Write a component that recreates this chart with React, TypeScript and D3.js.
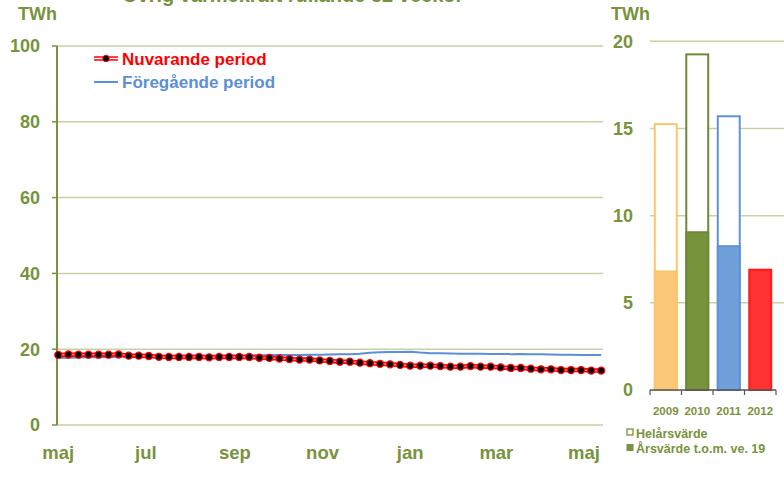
import React from 'react';
import * as d3 from 'd3';

// weekly values, rolling 52 weeks (TWh)
const currentPeriod = [
  18.5, 18.6, 18.55, 18.55, 18.55, 18.55, 18.6, 18.3, 18.3, 18.2,
  18.0, 17.95, 17.95, 17.95, 17.95, 17.85, 17.95, 17.95, 17.95, 17.95,
  17.75, 17.7, 17.55, 17.4, 17.25, 17.25, 17.05, 16.9, 16.7, 16.7,
  16.45, 16.3, 16.15, 16.0, 15.85, 15.65, 15.65, 15.65, 15.55, 15.4,
  15.4, 15.55, 15.4, 15.4, 15.2, 15.05, 15.05, 14.85, 14.7, 14.7,
  14.5, 14.5, 14.5, 14.35, 14.35
];
const previousPeriod = [
  17.7, 17.75, 17.8, 17.85, 17.9, 17.95, 18.0, 18.05, 18.1, 18.15,
  18.2, 18.2, 18.25, 18.25, 18.3, 18.3, 18.3, 18.35, 18.35, 18.4,
  18.4, 18.45, 18.45, 18.5, 18.5, 18.55, 18.55, 18.6, 18.65, 18.7,
  18.8, 19.05, 19.2, 19.25, 19.25, 19.35, 19.1, 18.95, 18.9, 18.85,
  18.8, 18.8, 18.8, 18.75, 18.75, 18.7, 18.75, 18.7, 18.65, 18.6,
  18.55, 18.55, 18.5, 18.5, 18.5
];
const weeks = d3.timeWeek.range(new Date(2011, 4, 1), new Date(2012, 4, 14));
const monthNames = ['jan', 'feb', 'mar', 'apr', 'maj', 'jun', 'jul', 'aug', 'sep', 'okt', 'nov', 'dec'];
const leftTicks = [0, 20, 40, 60, 80, 100];

const years = ['2009', '2010', '2011', '2012'];
const fullYear = [15.25, 19.25, 15.7, null];
const toWeek19 = [6.8, 9.05, 8.25, 6.9];
const barFill = ['#fac878', '#77933c', '#70a0da', '#ff3333'];
const barStroke = ['#fcc56a', '#6f8a36', '#5f93d6', '#ff1a1a'];
const rightTicks = [0, 5, 10, 15, 20];

const olive = '#77933c';
const grid = '#c6d1a4';
const font = '"Liberation Sans", Arial, sans-serif';

export default function App() {
  const x = d3.scaleTime().domain([weeks[0], weeks[weeks.length - 1]]).range([58.3, 601.2]);
  const y = d3.scaleLinear().domain([0, 100]).range([425, 46]);
  const monthTicks = x.ticks(d3.timeMonth.every(2));

  const line = d3.line<number>().x((d, i) => x(weeks[i])).y(d => y(d));

  const xb = d3.scaleBand<string>().domain(years).range([650, 776]).paddingInner(0.24).paddingOuter(0.12);
  const yb = d3.scaleLinear().domain([0, 20]).range([390, 41.3]);

  return (
    <svg width={784} height={480} style={{ position: 'absolute', left: 0, top: 0, fontFamily: font, fontWeight: 'bold' }}>
      <rect width={784} height={480} fill="#fff" />
      <text x={122} y={2} fontSize={20} fill={olive}>Övrig värmekraft rullande 52 veckor</text>

      {/* left chart */}
      <text x={18} y={20} fontSize={18} fill={olive}>TWh</text>
      {leftTicks.map(t => (
        <g key={t}>
          <line x1={57} x2={603} y1={y(t)} y2={y(t)} stroke={grid} strokeWidth={1.5} />
          <line x1={52} x2={57} y1={y(t)} y2={y(t)} stroke={olive} strokeWidth={1.5} />
          <text x={40} y={y(t)} dy="0.36em" textAnchor="end" fontSize={18} fill={olive}>{t}</text>
        </g>
      ))}
      <line x1={57} x2={57} y1={y(100)} y2={y(0)} stroke={olive} strokeWidth={2} />
      {monthTicks.map((d, i) => (
        <text key={i} x={x(d)} y={459} textAnchor="middle" fontSize={18.5} fill={olive}>{monthNames[d.getMonth()]}</text>
      ))}

      <path d={line(previousPeriod) || ''} fill="none" stroke="#5b8fd6" strokeWidth={2} />
      <path d={line(currentPeriod) || ''} fill="none" stroke="#ff0000" strokeWidth={4.5} />
      <path d={line(currentPeriod) || ''} fill="none" stroke="#ffb0b0" strokeWidth={1.3} />
      {currentPeriod.map((v, i) => (
        <circle key={i} cx={x(weeks[i])} cy={y(v)} r={3.5} fill="#000" stroke="#ff0000" strokeWidth={1.3} />
      ))}

      {/* legend left */}
      <line x1={94} x2={118} y1={58.5} y2={58.5} stroke="#ff0000" strokeWidth={4.5} />
      <line x1={94} x2={118} y1={58.5} y2={58.5} stroke="#fff" strokeWidth={1.5} />
      <circle cx={106} cy={58.5} r={3.2} fill="#000" stroke="#ff0000" strokeWidth={1} />
      <text x={122} y={65} fontSize={17} fill="#ff0000">Nuvarande period</text>
      <line x1={94} x2={118} y1={82} y2={82} stroke="#5b8fd6" strokeWidth={2} />
      <text x={122} y={88} fontSize={17} fill="#5b8fd6">Föregående period</text>

      {/* right chart */}
      <text x={611} y={20} fontSize={18} fill={olive}>TWh</text>
      {rightTicks.map(t => (
        <g key={t}>
          {t > 0 && <line x1={650} x2={784} y1={yb(t)} y2={yb(t)} stroke={grid} strokeWidth={1.5} />}
          <text x={633} y={yb(t)} dy="0.36em" textAnchor="end" fontSize={18} fill={olive}>{t}</text>
        </g>
      ))}
      {years.map((yr, i) => {
        const full = fullYear[i];
        return (
          <g key={yr}>
            {full !== null && (
              <rect x={xb(yr)! + 1} y={yb(full)} width={xb.bandwidth() - 2} height={yb(0) - yb(full)}
                fill="#fff" stroke={barStroke[i]} strokeWidth={2} />
            )}
            <rect x={xb(yr)! + 1} y={yb(toWeek19[i])} width={xb.bandwidth() - 2} height={yb(0) - yb(toWeek19[i])}
              fill={barFill[i]} stroke={barStroke[i]} strokeWidth={2} />
            <text x={xb(yr)! + xb.bandwidth() / 2} y={415} textAnchor="middle" fontSize={11.5} fill={olive}>{yr}</text>
          </g>
        );
      })}
      <line x1={650} x2={776} y1={390} y2={390} stroke="#555" strokeWidth={1.5} />
      {d3.range(years.length + 1).map(i => {
        const bx = 650 + i * xb.step();
        return <line key={i} x1={bx} x2={bx} y1={390} y2={395} stroke="#555" strokeWidth={1.2} />;
      })}

      {/* legend right */}
      <rect x={627} y={429} width={6} height={6} fill="#fff" stroke={olive} strokeWidth={1.3} />
      <text x={636} y={438} fontSize={12.5} fill={olive}>Helårsvärde</text>
      <rect x={626.5} y={444} width={7} height={7} fill={olive} />
      <text x={636} y={453} fontSize={12.5} fill={olive}>Årsvärde t.o.m. ve. 19</text>
    </svg>
  );
}
